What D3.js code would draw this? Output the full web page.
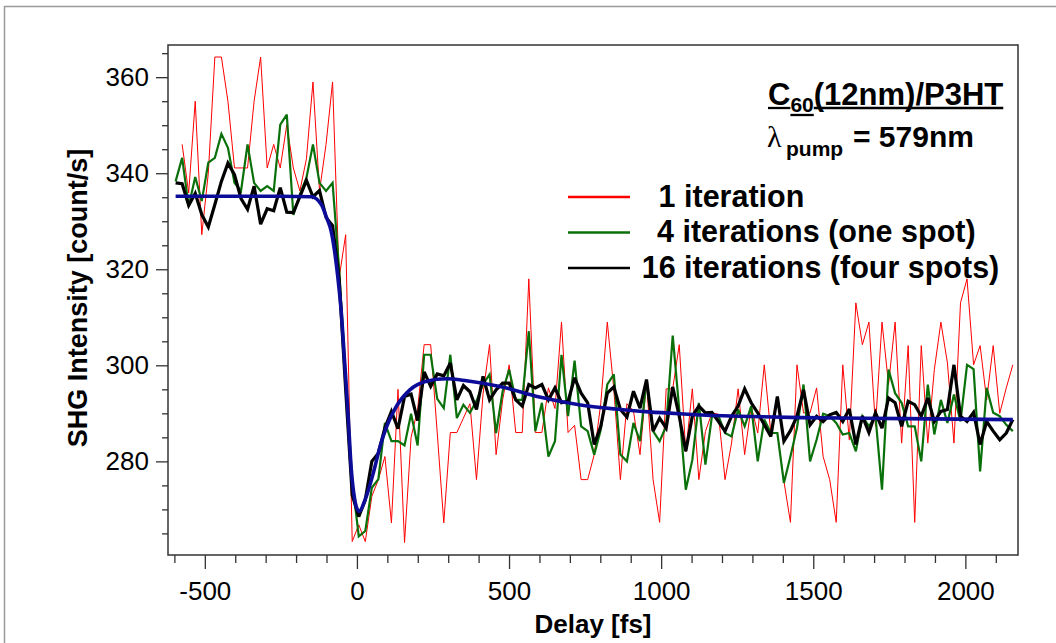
<!DOCTYPE html>
<html><head><meta charset="utf-8">
<script src="https://cdn.jsdelivr.net/npm/d3@7"></script>
<style>body{margin:0;background:#fff}svg{display:block}text{font-family:"Liberation Sans",Arial,sans-serif;fill:#000}</style>
</head><body><svg id="c" width="1056" height="643"></svg>
<script>
// ---------- data ----------
const delays = [-596,-574.5,-553,-531.5,-510,-488.5,-467,-445.5,-424,-402.5,-381,-359.5,-338,-316.5,-295,-273.5,-252,-230.5,-209,-187.5,-166,-144.5,-123,-101.5,-80,-58.5,-37,-15.5,6,27.5,49,70.5,92,113.5,135,156.5,178,199.5,221,242.5,264,285.5,307,328.5,350,371.5,393,414.5,436,457.5,479,500.5,522,543.5,565,586.5,608,629.5,651,672.5,694,715.5,737,758.5,780,801.5,823,844.5,866,887.5,909,930.5,952,973.5,995,1016.5,1038,1059.5,1081,1102.5,1124,1145.5,1167,1188.5,1210,1231.5,1253,1274.5,1296,1317.5,1339,1360.5,1382,1403.5,1425,1446.5,1468,1489.5,1511,1532.5,1554,1575.5,1597,1618.5,1640,1661.5,1683,1704.5,1726,1747.5,1769,1790.5,1812,1833.5,1855,1876.5,1898,1919.5,1941,1962.5,1984,2005.5,2027,2048.5,2070,2091.5,2113,2134.5,2156];

const oneIteration = [null,346.0,335.9,355.0,327.2,340,364.2,364.2,355.0,341.1,341.1,341.1,355.0,364.2,341.1,346.0,341.1,350.1,341.1,336.3,343,359.0,336.3,346.0,359.0,318.2,327.2,263.3,266.8,263.3,272.7,276.2,281.0,267.2,295.0,263.1,285,290.8,304.3,304.3,285.9,267.2,286.0,286.0,289,292,276.2,294,304.3,281.4,292.8,300.1,286.0,286.0,318.0,286.0,286.0,295.3,291,309.0,286.0,287.5,276.2,276.2,281.4,292,309,295,276.2,292,290.5,281.4,296.7,276.2,267.3,295.1,295.1,304.3,282,295.1,276.2,286.2,290.1,289.8,276.2,283.8,295.1,281.4,291.5,285.9,300.1,285.9,285.9,275.9,267.3,300.1,290.1,290.1,295.3,281.0,276.2,267.3,300.1,284.5,313.0,304.3,309.0,287.3,309.0,296.0,309.0,283.8,304.1,267.3,304.1,283.8,299.1,309.0,300.5,283.8,313.0,318.0,300.1,304.1,292.8,304.1,290,295.3,300.1];

const fourIterations = [338.3,343.2,333.1,339.2,334.2,342.2,343.2,348.2,345.3,338.0,336.3,346.0,338.0,336.3,337.3,336.3,350.1,352.2,331.3,335.6,339.0,346.0,338.0,336.3,338.0,320,298,276,264.4,265.5,274.5,276.3,288.0,284.2,284.2,283.3,289.9,283.3,302.2,302.2,293.0,291.1,302.2,289,291.8,290.1,292.6,296,298.1,285.9,294.6,299.1,292.8,292.8,307.1,286.3,292.2,281.0,284.2,302.2,289.4,301,287.3,286.3,281.4,286.6,296.0,298.1,281.4,280.0,288.0,284.2,297.0,286.3,284.2,287.3,306.2,290.8,274.1,280.3,292.2,279.3,289.4,289.4,285.9,285.2,290.8,287.3,291.5,280.0,288.7,285.9,285.9,275.5,281,287,296.0,280.0,284.5,289.9,289.4,288.0,285.6,285.9,282.1,289.4,287.3,289.4,274.1,299.1,294.2,292.2,287.3,287.3,280.0,296.0,285.6,292.8,288.0,293.9,288.3,300.1,299.2,277.9,295.3,290.1,289.4,287.6,286.3];

const sixteenIterations = [338.0,337.8,333.3,335.8,331.4,328.8,333.5,338.3,342.1,339.7,334.7,332.5,337.3,329.4,332.6,332.2,337.0,331.9,331.8,335.1,338.5,335.1,336.4,330.8,329.1,318,295,273,268.5,272,280.0,281.7,287,290.4,286.8,293.5,294,288.5,298.6,295.6,298.2,297.8,300.5,292.8,295.8,294.5,290.8,297.7,292.8,294.9,296.3,296.3,292.8,291.5,296,295.3,296,292.8,295.3,292.2,292.5,297.4,294.2,292.2,283.5,287.3,294.2,295.5,290.8,289.2,294.6,291.1,297.0,286.3,289.0,286.9,295.5,289.4,282.1,289.4,291.5,290.1,290.2,288.3,286.3,289.4,291.5,295.1,292.2,290.1,287.6,285.2,293.5,284.2,286.4,289.4,294.9,287.6,289.4,288.3,289.7,290.2,288.3,290.9,283.5,289.4,286.0,290.1,286.9,293.2,292.2,287.3,292.5,291.8,289.4,293.2,288.3,290.4,290.8,300.1,289.4,288.3,290.2,283.5,288.3,286.3,284.5,285.9,288.7];

const fitDelays = [-596,-250,-150,-117,-100,-84.5,-62.5,-51.6,-40.5,-29.6,-18.7,-7.6,0,8.9,25,32,54,76,98,130,174,229,295,360,470,600,730,850,960,1060,1150,1250,1460,1800,2156];
const fitValues = [335.2,335.2,335.1,333.5,330.8,327.9,318.2,311.2,300.8,290.3,278.5,272.2,270.2,269.6,271.7,272.9,277.6,283.1,287.3,291.5,294.9,296.7,297.2,296.8,295.6,293.4,291.8,290.9,290.3,289.9,289.6,289.4,289.1,288.9,288.7];

const xTickValues = [-600,-500,-400,-300,-200,-100,0,100,200,300,400,500,600,700,800,900,1000,1100,1200,1300,1400,1500,1600,1700,1800,1900,2000,2100];
const xLabelValues = [-500,0,500,1000,1500,2000];
const yTickValues = [265,270,275,280,285,290,295,300,305,310,315,320,325,330,335,340,345,350,355,360,365];
const yLabelValues = [280,300,320,340,360];

const seriesNames = ["1 iteration","4 iterations (one spot)","16 iterations (four spots)"];
const seriesColors = ["#ff0000","#0a700a","#000000"];
const seriesWidths = [1,2.2,3.2];
const fitColor = "#0c0c98";

// ---------- layout ----------
const L = 168, R = 1018, T = 45, B = 555;
const svg = d3.select("#c");
svg.append("rect").attr("width",1056).attr("height",643).attr("fill","#fff");
svg.append("path").attr("d","M4.5,643V6.5H1056").attr("fill","none").attr("stroke","#9a9a9a").attr("stroke-width",1.5);

const x = d3.scaleLinear().domain([-621, 2173]).range([L, R]);
const y = d3.scaleLinear().domain([260.5, 366.7]).range([B, T]);

svg.append("defs").append("clipPath").attr("id","clip").append("rect")
  .attr("x",L).attr("y",T).attr("width",R-L).attr("height",B-T);

// axes
const axisColor = "#333";
function styleAxis(g){
  g.select(".domain").remove();
  g.selectAll("line").attr("stroke",axisColor).attr("stroke-width",1.3);
  g.selectAll("text").attr("font-size",26).attr("fill","#000")
    .style("font-family","'Liberation Sans', Arial, sans-serif");
}
svg.append("g").attr("transform",`translate(0,${B})`)
  .call(d3.axisBottom(x).tickValues(xTickValues.filter(v=>!xLabelValues.includes(v))).tickSize(8).tickFormat(""))
  .call(styleAxis);
svg.append("g").attr("transform",`translate(0,${B})`)
  .call(d3.axisBottom(x).tickValues(xLabelValues).tickSize(14).tickPadding(13).tickFormat(d=>String(d)))
  .call(styleAxis);
svg.append("g").attr("transform",`translate(${L},0)`)
  .call(d3.axisLeft(y).tickValues(yTickValues.filter(v=>!yLabelValues.includes(v))).tickSize(6).tickFormat(""))
  .call(styleAxis);
svg.append("g").attr("transform",`translate(${L},0)`)
  .call(d3.axisLeft(y).tickValues(yLabelValues).tickSize(12).tickPadding(7).tickFormat(d=>String(d)))
  .call(styleAxis);

// frame
svg.append("rect").attr("x",L).attr("y",T).attr("width",R-L).attr("height",B-T)
  .attr("fill","none").attr("stroke",axisColor).attr("stroke-width",1.5);

// axis titles
svg.append("text").attr("transform","translate(87,298) rotate(-90)").attr("text-anchor","middle")
  .attr("font-weight","bold").attr("font-size",27).text("SHG Intensity [count/s]");
svg.append("text").attr("x",593).attr("y",633).attr("text-anchor","middle")
  .attr("font-weight","bold").attr("font-size",26).text("Delay [fs]");

// series
const plot = svg.append("g").attr("clip-path","url(#clip)");
const line = d3.line().defined(d=>d.v!=null).x(d=>x(d.x)).y(d=>y(d.v));
[oneIteration, fourIterations, sixteenIterations].forEach((s,i)=>{
  plot.append("path").datum(delays.map((d,j)=>({x:d,v:s[j]})))
    .attr("d",line).attr("fill","none").attr("stroke",seriesColors[i])
    .attr("stroke-width",seriesWidths[i]).attr("stroke-linejoin","miter").attr("stroke-miterlimit",3);
});
const fitLine = d3.line().curve(d3.curveMonotoneX).x(d=>x(d.x)).y(d=>y(d.v));
plot.append("path").datum(fitDelays.map((d,j)=>({x:d,v:fitValues[j]})))
  .attr("d",fitLine).attr("fill","none").attr("stroke",fitColor).attr("stroke-width",3.6);

// legend
const legY = [197,232.5,268];
const legTextX = [658.6,657,641.7];
seriesNames.forEach((n,i)=>{
  svg.append("line").attr("x1",568).attr("x2",630).attr("y1",legY[i]).attr("y2",legY[i])
    .attr("stroke",seriesColors[i]).attr("stroke-width",2.6);
  svg.append("text").attr("x",legTextX[i]).attr("y",legY[i]+9.5).attr("font-weight","bold")
    .attr("font-size",30.5).text(n);
});

// title
const t = svg.append("text").attr("x",768).attr("y",105).attr("font-weight","bold").attr("font-size",31);
t.append("tspan").text("C");
t.append("tspan").attr("font-size",21).attr("dy",6.5).text("60");
t.append("tspan").attr("dy",-6.5).text("(12nm)/P3HT");
const tn = t.node();
const n = tn.getNumberOfChars();
function ul(a,b,yy){
  const x1 = tn.getStartPositionOfChar(a).x, x2 = tn.getEndPositionOfChar(b).x;
  svg.append("line").attr("x1",x1).attr("x2",x2).attr("y1",yy).attr("y2",yy).attr("stroke","#000").attr("stroke-width",2.3);
}
ul(0,0,108); ul(1,2,115); ul(3,n-1,108);

const t2 = svg.append("text").attr("y",147).attr("font-size",30);
t2.append("tspan").attr("x",767).style("font-family","'Liberation Serif', serif").text("λ");
t2.append("tspan").attr("x",786).attr("font-weight","bold").attr("font-size",21).attr("dy",9).text("pump");
t2.append("tspan").attr("x",853).attr("font-weight","bold").attr("dy",-9).text("= 579nm");
</script></body></html>
